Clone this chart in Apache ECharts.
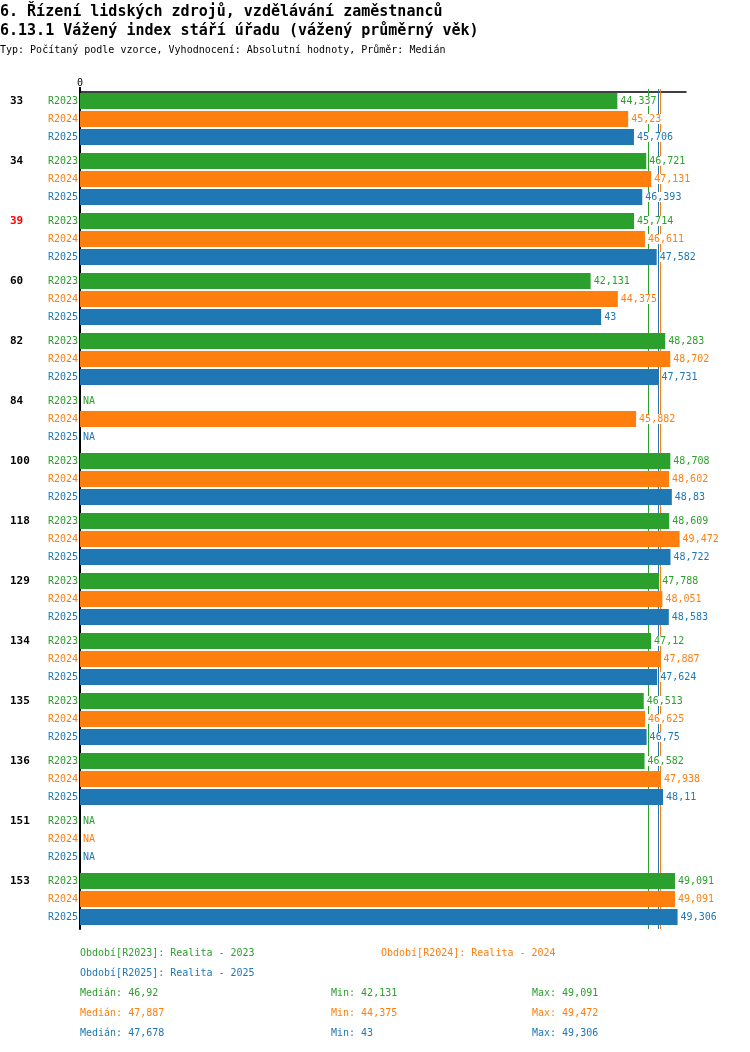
<!DOCTYPE html>
<html>
<head>
<meta charset="utf-8">
<script src="https://cdn.jsdelivr.net/npm/echarts@6/dist/echarts.min.js"></script>
<style>
  html, body { margin: 0; padding: 0; background: #fff; }
  #chart { width: 750px; height: 1052px; }
</style>
</head>
<body>
<div id="chart"></div>
<script>
// úřady (kategorie) a hodnoty za jednotlivá období, null = NA
var categories = ['33', '34', '39', '60', '82', '84', '100', '118', '129', '134', '135', '136', '151', '153'];
var highlighted = ['39'];
var r2023 = [44.337, 46.721, 45.714, 42.131, 48.283, null, 48.708, 48.609, 47.788, 47.12, 46.513, 46.582, null, 49.091];
var r2024 = [45.23, 47.131, 46.611, 44.375, 48.702, 45.882, 48.602, 49.472, 48.051, 47.887, 46.625, 47.938, null, 49.091];
var r2025 = [45.706, 46.393, 47.582, 43, 47.731, null, 48.83, 48.722, 48.583, 47.624, 46.75, 48.11, null, 49.306];

var periods = ['R2023', 'R2024', 'R2025'];
var periodNames = ['Realita - 2023', 'Realita - 2024', 'Realita - 2025'];
var colors = ['#2ca02c', '#ff7f0e', '#1f77b4'];
var medians = [46.92, 47.887, 47.678];
var mins = [42.131, 44.375, 43];
var maxs = [49.091, 49.472, 49.306];

var FONT = '"DejaVu Sans Mono", monospace';
var values = [r2023, r2024, r2025];

function fmt(v) {
    return String(v).replace('.', ',');
}

var series = [];
values.forEach(function (vals, i) {
    // nulova rada jen kvuli popisku obdobi vlevo
    series.push({
        type: 'bar',
        name: periods[i] + '_lab',
        stack: 's' + i,
        barWidth: 16,
        barGap: '12.5%',
        data: categories.map(function () { return 0; }),
        itemStyle: { color: colors[i] },
        label: {
            show: true, position: 'left', distance: 2,
            formatter: periods[i],
            color: colors[i], fontFamily: FONT, fontSize: 10
        },
        silent: true
    });
    series.push({
        type: 'bar',
        name: periods[i],
        stack: 's' + i,
        barWidth: 16,
        barGap: '12.5%',
        data: vals.map(function (v) { return v == null ? 0 : v; }),
        itemStyle: { color: colors[i] },
        label: {
            show: true, position: 'right', distance: 3,
            formatter: function (p) {
                var v = vals[p.dataIndex];
                return v == null ? 'NA' : fmt(v);
            },
            color: colors[i], fontFamily: FONT, fontSize: 10,
            backgroundColor: '#fff'
        },
        markLine: {
            silent: true,
            symbol: 'none',
            z: 1,
            label: { show: false },
            lineStyle: { color: colors[i], type: 'solid', width: 1 },
            data: [{ xAxis: medians[i] }]
        }
    });
});

// popisky nahore a legenda dole
var graphics = [
    { type: 'text', left: 0, top: 5, style: { text: '6. Řízení lidských zdrojů, vzdělávání zaměstnanců', font: 'bold 15px ' + FONT, fill: '#000' } },
    { type: 'text', left: 0, top: 24, style: { text: '6.13.1 Vážený index stáří úřadu (vážený průměrný věk)', font: 'bold 15px ' + FONT, fill: '#000' } },
    { type: 'text', left: 0, top: 45, style: { text: 'Typ: Počítaný podle vzorce, Vyhodnocení: Absolutní hodnoty, Průměr: Medián', font: '10px ' + FONT, fill: '#000' } }
];
var legendPos = [[80, 953], [381, 953], [80, 973]];
periods.forEach(function (p, i) {
    graphics.push({ type: 'text', style: { x: legendPos[i][0], y: legendPos[i][1], text: 'Období[' + p + ']: ' + periodNames[i], font: '10px ' + FONT, fill: colors[i], verticalAlign: 'middle' } });
    var y = 993 + i * 20;
    graphics.push({ type: 'text', style: { x: 80, y: y, text: 'Medián: ' + fmt(medians[i]), font: '10px ' + FONT, fill: colors[i], verticalAlign: 'middle' } });
    graphics.push({ type: 'text', style: { x: 331, y: y, text: 'Min: ' + fmt(mins[i]), font: '10px ' + FONT, fill: colors[i], verticalAlign: 'middle' } });
    graphics.push({ type: 'text', style: { x: 532, y: y, text: 'Max: ' + fmt(maxs[i]), font: '10px ' + FONT, fill: colors[i], verticalAlign: 'middle' } });
});

var option = {
    animation: false,
    backgroundColor: '#fff',
    textStyle: { fontFamily: FONT },
    grid: { left: 80, right: 64, top: 89, height: 840 },
    xAxis: {
        type: 'value',
        position: 'top',
        offset: -3,
        min: 0,
        max: 50,
        interval: 50,
        axisLine: { show: true, lineStyle: { color: '#000', width: 1.5 } },
        axisTick: { show: true, customValues: [0], length: 5, lineStyle: { color: '#000', width: 2 } },
        axisLabel: { customValues: [0], color: '#000', fontSize: 10, fontFamily: FONT, margin: 4 },
        splitLine: { show: false }
    },
    yAxis: {
        type: 'category',
        data: categories,
        inverse: true,
        axisLine: { show: true, lineStyle: { color: '#000', width: 2 } },
        axisTick: { show: false },
        axisLabel: {
            align: 'left',
            margin: 70,
            padding: [0, 0, 36, 0],
            color: '#000',
            fontWeight: 'bold',
            fontSize: 11,
            fontFamily: FONT,
            formatter: function (v) {
                return highlighted.indexOf(v) >= 0 ? '{hl|' + v + '}' : v;
            },
            rich: {
                hl: { color: '#ff0000', fontWeight: 'bold', fontSize: 11, fontFamily: FONT }
            }
        }
    },
    series: series,
    graphic: graphics
};

var myChart = echarts.init(document.getElementById('chart'));
myChart.setOption(option);
</script>
</body>
</html>
